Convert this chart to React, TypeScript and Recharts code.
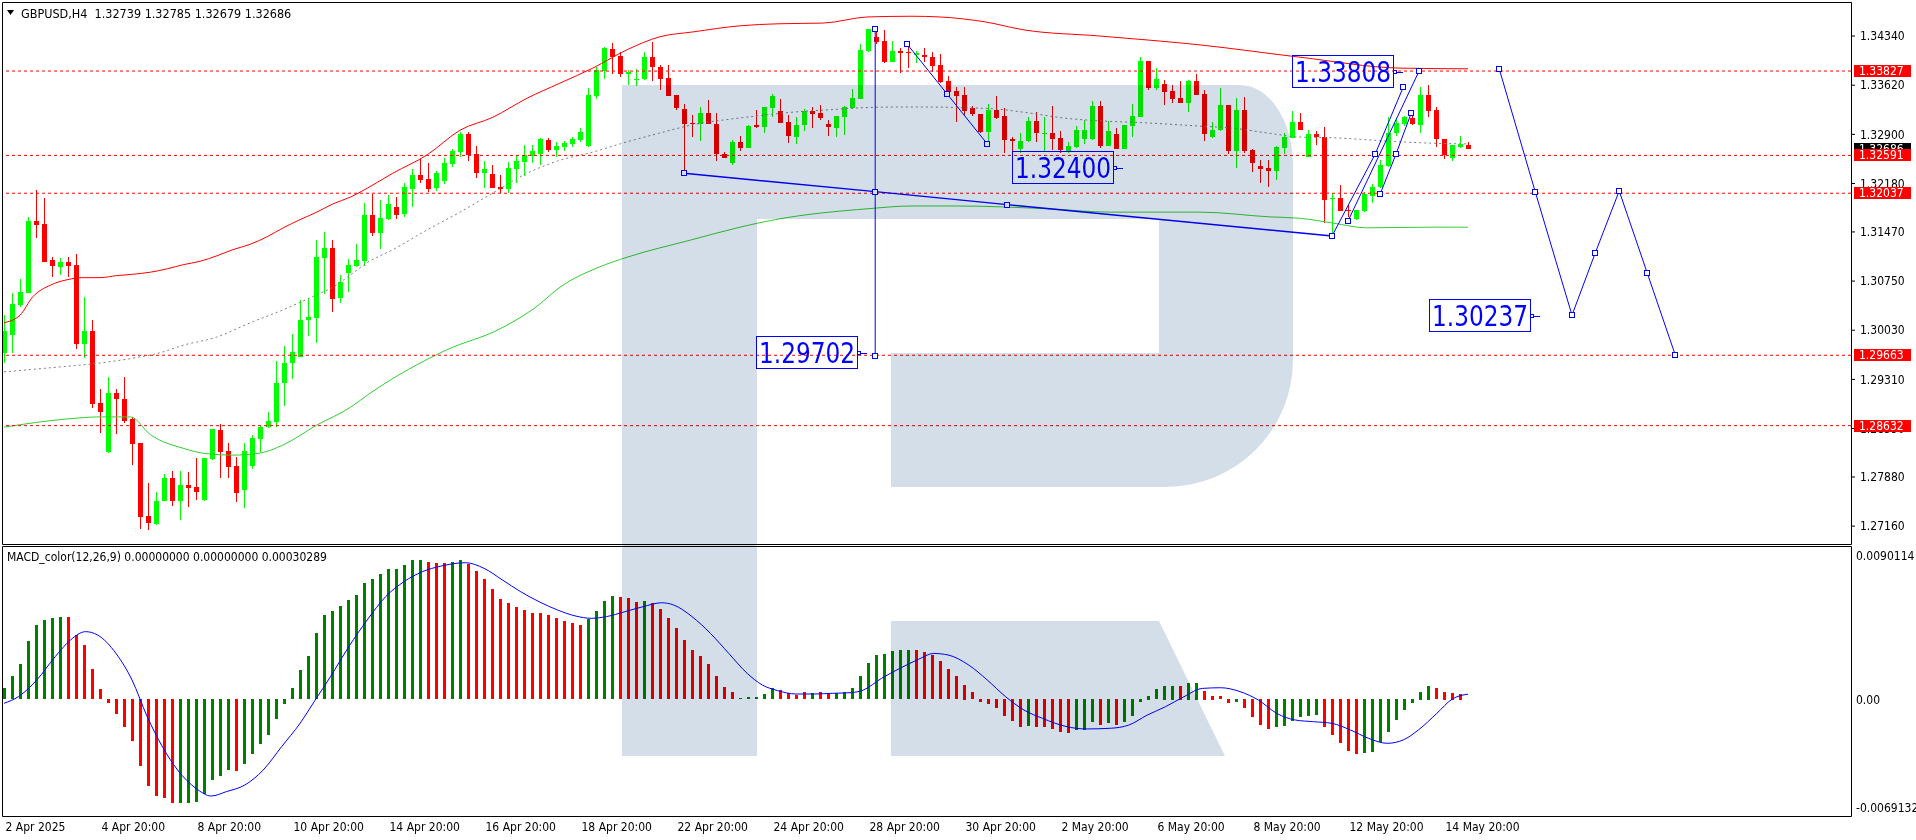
import React from "react";
import { Bar, ComposedChart, Line, ReferenceDot, ReferenceLine, XAxis, YAxis } from "recharts";

const FONT = "'DejaVu Sans Condensed', 'DejaVu Sans', sans-serif";

// GBPUSD H4 bars from 2 Apr 20:00 to 15 May 08:00 — [open, high, low, close]
const ohlc: [number, number, number, number][] = [
  [1.2970, 1.3025, 1.2955, 1.3002], [1.2995, 1.3058, 1.2970, 1.3041], [1.3040, 1.3078, 1.3037, 1.3059],
  [1.3058, 1.3169, 1.3058, 1.3163], [1.3163, 1.3208, 1.3138, 1.3157], [1.3159, 1.3197, 1.3104, 1.3104],
  [1.3106, 1.3110, 1.3080, 1.3097], [1.3096, 1.3109, 1.3084, 1.3103], [1.3103, 1.3110, 1.3080, 1.3097],
  [1.3099, 1.3115, 1.2976, 1.2983], [1.2983, 1.3052, 1.2962, 1.3002], [1.3002, 1.3018, 1.2889, 1.2895],
  [1.2896, 1.2917, 1.2852, 1.2883], [1.2825, 1.2935, 1.2823, 1.2911], [1.2911, 1.2917, 1.2851, 1.2902],
  [1.2902, 1.2935, 1.2867, 1.2870], [1.2873, 1.2876, 1.2806, 1.2836], [1.2838, 1.2838, 1.2712, 1.2729],
  [1.2731, 1.2779, 1.2710, 1.2721], [1.2719, 1.2766, 1.2718, 1.2753], [1.2753, 1.2792, 1.2753, 1.2787],
  [1.2787, 1.2797, 1.2746, 1.2754], [1.2753, 1.2797, 1.2725, 1.2776], [1.2776, 1.2795, 1.2744, 1.2772],
  [1.2773, 1.2816, 1.2754, 1.2766], [1.2754, 1.2816, 1.2753, 1.2816], [1.2814, 1.2858, 1.2813, 1.2858],
  [1.2857, 1.2866, 1.2787, 1.2825], [1.2826, 1.2838, 1.2787, 1.2803], [1.2804, 1.2817, 1.2751, 1.2765],
  [1.2769, 1.2838, 1.2743, 1.2826], [1.2804, 1.2850, 1.2800, 1.2845], [1.2844, 1.2863, 1.2825, 1.2861],
  [1.2861, 1.2883, 1.2860, 1.2870], [1.2869, 1.2958, 1.2861, 1.2926], [1.2926, 1.2980, 1.2892, 1.2955],
  [1.2955, 1.2998, 1.2932, 1.2971], [1.2964, 1.3047, 1.2964, 1.3018], [1.3017, 1.3049, 1.2995, 1.3022],
  [1.3021, 1.3135, 1.2984, 1.3110], [1.3109, 1.3147, 1.3056, 1.3124], [1.3124, 1.3135, 1.3030, 1.3050],
  [1.3050, 1.3084, 1.3043, 1.3074], [1.3087, 1.3107, 1.3059, 1.3099], [1.3097, 1.3129, 1.3096, 1.3106],
  [1.3104, 1.3189, 1.3096, 1.3172], [1.3172, 1.3203, 1.3141, 1.3146], [1.3146, 1.3194, 1.3122, 1.3168],
  [1.3166, 1.3201, 1.3165, 1.3188], [1.3184, 1.3198, 1.3166, 1.3173], [1.3173, 1.3219, 1.3169, 1.3213],
  [1.3211, 1.3239, 1.3184, 1.3231], [1.3231, 1.3254, 1.3219, 1.3223], [1.3225, 1.3248, 1.3206, 1.3211],
  [1.3211, 1.3236, 1.3206, 1.3233], [1.3222, 1.3255, 1.3217, 1.3248], [1.3247, 1.3269, 1.3242, 1.3266],
  [1.3264, 1.3294, 1.3258, 1.3291], [1.3291, 1.3294, 1.3251, 1.3260], [1.3261, 1.3273, 1.3226, 1.3233],
  [1.3233, 1.3251, 1.3211, 1.3239], [1.3232, 1.3245, 1.3211, 1.3211], [1.3213, 1.3231, 1.3204, 1.3210],
  [1.3210, 1.3250, 1.3204, 1.3241], [1.3239, 1.3260, 1.3219, 1.3251], [1.3250, 1.3274, 1.3228, 1.3260],
  [1.3258, 1.3274, 1.3247, 1.3266], [1.3261, 1.3285, 1.3245, 1.3283], [1.3282, 1.3285, 1.3264, 1.3267],
  [1.3267, 1.3279, 1.3257, 1.3273], [1.3271, 1.3280, 1.3266, 1.3277], [1.3276, 1.3286, 1.3271, 1.3283],
  [1.3282, 1.3299, 1.3279, 1.3294], [1.3274, 1.3358, 1.3271, 1.3348], [1.3346, 1.3389, 1.3342, 1.3384],
  [1.3384, 1.3418, 1.3371, 1.3417], [1.3415, 1.3424, 1.3378, 1.3403], [1.3405, 1.3411, 1.3374, 1.3378],
  [1.3378, 1.3384, 1.3362, 1.3381], [1.3370, 1.3386, 1.3361, 1.3371], [1.3371, 1.3411, 1.3370, 1.3403],
  [1.3403, 1.3425, 1.3368, 1.3389], [1.3389, 1.3392, 1.3355, 1.3371], [1.3373, 1.3392, 1.3346, 1.3346],
  [1.3348, 1.3348, 1.3326, 1.3329], [1.3327, 1.3334, 1.3233, 1.3305], [1.3307, 1.3318, 1.3286, 1.3305],
  [1.3305, 1.3330, 1.3280, 1.3321], [1.3321, 1.3340, 1.3305, 1.3305], [1.3305, 1.3321, 1.3250, 1.3261],
  [1.3261, 1.3264, 1.3255, 1.3255], [1.3248, 1.3282, 1.3245, 1.3279], [1.3279, 1.3288, 1.3266, 1.3270],
  [1.3270, 1.3304, 1.3270, 1.3302], [1.3304, 1.3326, 1.3299, 1.3301], [1.3301, 1.3330, 1.3292, 1.3330],
  [1.3329, 1.3349, 1.3315, 1.3346], [1.3324, 1.3342, 1.3307, 1.3307], [1.3308, 1.3318, 1.3277, 1.3288],
  [1.3286, 1.3315, 1.3276, 1.3304], [1.3304, 1.3327, 1.3295, 1.3324], [1.3324, 1.3330, 1.3299, 1.3320],
  [1.3321, 1.3333, 1.3311, 1.3313], [1.3305, 1.3311, 1.3288, 1.3301], [1.3299, 1.3317, 1.3286, 1.3317],
  [1.3315, 1.3332, 1.3289, 1.3330], [1.3329, 1.3356, 1.3326, 1.3343], [1.3342, 1.3422, 1.3342, 1.3414],
  [1.3412, 1.3444, 1.3411, 1.3444], [1.3433, 1.3443, 1.3422, 1.3425], [1.3427, 1.3443, 1.3395, 1.3396],
  [1.3396, 1.3427, 1.3396, 1.3412], [1.3412, 1.3417, 1.3380, 1.3409], [1.3411, 1.3418, 1.3387, 1.3409],
  [1.3406, 1.3412, 1.3395, 1.3409], [1.3406, 1.3417, 1.3396, 1.3403], [1.3403, 1.3411, 1.3381, 1.3390],
  [1.3392, 1.3408, 1.3365, 1.3367], [1.3368, 1.3376, 1.3348, 1.3352], [1.3354, 1.3359, 1.3308, 1.3346],
  [1.3348, 1.3359, 1.3318, 1.3324], [1.3329, 1.3332, 1.3318, 1.3320], [1.3320, 1.3320, 1.3292, 1.3294],
  [1.3294, 1.3334, 1.3280, 1.3326], [1.3326, 1.3346, 1.3313, 1.3315], [1.3317, 1.3329, 1.3263, 1.3282],
  [1.3283, 1.3286, 1.3263, 1.3280], [1.3269, 1.3292, 1.3263, 1.3280], [1.3280, 1.3315, 1.3279, 1.3310],
  [1.3310, 1.3323, 1.3279, 1.3292], [1.3291, 1.3315, 1.3263, 1.3292], [1.3292, 1.3332, 1.3267, 1.3283],
  [1.3285, 1.3295, 1.3263, 1.3267], [1.3266, 1.3279, 1.3263, 1.3273], [1.3271, 1.3302, 1.3270, 1.3296],
  [1.3283, 1.3311, 1.3276, 1.3296], [1.3283, 1.3339, 1.3282, 1.3332], [1.3332, 1.3339, 1.3270, 1.3273],
  [1.3273, 1.3310, 1.3273, 1.3295], [1.3291, 1.3299, 1.3269, 1.3269], [1.3269, 1.3304, 1.3269, 1.3304],
  [1.3302, 1.3334, 1.3286, 1.3317], [1.3315, 1.3403, 1.3315, 1.3397], [1.3397, 1.3397, 1.3354, 1.3358],
  [1.3358, 1.3387, 1.3355, 1.3371], [1.3364, 1.3370, 1.3334, 1.3352], [1.3354, 1.3362, 1.3336, 1.3342],
  [1.3343, 1.3368, 1.3336, 1.3336], [1.3336, 1.3370, 1.3323, 1.3368], [1.3368, 1.3378, 1.3348, 1.3348],
  [1.3349, 1.3355, 1.3280, 1.3291], [1.3286, 1.3308, 1.3285, 1.3296], [1.3296, 1.3358, 1.3295, 1.3333],
  [1.3333, 1.3333, 1.3261, 1.3266], [1.3266, 1.3343, 1.3241, 1.3326], [1.3326, 1.3345, 1.3263, 1.3266],
  [1.3267, 1.3269, 1.3236, 1.3248], [1.3244, 1.3252, 1.3219, 1.3239], [1.3241, 1.3252, 1.3213, 1.3236],
  [1.3236, 1.3273, 1.3223, 1.3271], [1.3270, 1.3292, 1.3261, 1.3286], [1.3285, 1.3324, 1.3285, 1.3308],
  [1.3308, 1.3321, 1.3296, 1.3296], [1.3257, 1.3296, 1.3257, 1.3291], [1.3291, 1.3295, 1.3274, 1.3286],
  [1.3286, 1.3301, 1.3160, 1.3194], [1.3195, 1.3204, 1.3146, 1.3197], [1.3197, 1.3216, 1.3178, 1.3178],
  [1.3179, 1.3187, 1.3169, 1.3178], [1.3166, 1.3179, 1.3165, 1.3179], [1.3178, 1.3206, 1.3176, 1.3203],
  [1.3200, 1.3217, 1.3189, 1.3213], [1.3213, 1.3252, 1.3211, 1.3245], [1.3244, 1.3315, 1.3242, 1.3292],
  [1.3292, 1.3314, 1.3288, 1.3307], [1.3305, 1.3317, 1.3302, 1.3315], [1.3314, 1.3318, 1.3304, 1.3305],
  [1.3304, 1.3359, 1.3291, 1.3348], [1.3348, 1.3362, 1.3315, 1.3324], [1.3326, 1.3330, 1.3271, 1.3283],
  [1.3283, 1.3283, 1.3254, 1.3260], [1.3255, 1.3274, 1.3251, 1.3274], [1.3271, 1.3288, 1.3271, 1.3276],
  [1.32739, 1.32785, 1.32679, 1.32686],
];

// moving average envelope: [bar index, price]
const maUpper = [
  [0, 1.3014], [2, 1.3025], [3.6, 1.3052], [5.8, 1.3069], [7.9, 1.3077], [9.9, 1.308], [12, 1.308],
  [14.1, 1.3083], [16.1, 1.3085], [18.3, 1.3088], [20.4, 1.3093], [22.4, 1.3099], [24.5, 1.3104],
  [26.6, 1.3112], [28.6, 1.3121], [30.8, 1.3129], [32.9, 1.314], [34.9, 1.3153], [37, 1.3165],
  [39.1, 1.3176], [41.1, 1.3188], [43.3, 1.3198], [45.4, 1.3211], [48.6, 1.3233], [52.9, 1.326],
  [57, 1.3296], [61.1, 1.3315], [65.4, 1.3343], [69.5, 1.3365], [73.6, 1.3387], [77.9, 1.3414],
  [82, 1.3433], [86.1, 1.344], [92, 1.3449], [96.9, 1.3452], [102.4, 1.3453], [108, 1.3462],
  [113.5, 1.3463], [116.9, 1.3462], [122.5, 1.3455], [127.5, 1.3443], [137, 1.3434], [149.5, 1.3421],
  [162, 1.3403], [174.5, 1.3387], [183, 1.3386],
];
const maMiddle = [
  [0, 1.2942], [5.8, 1.2948], [12, 1.2955], [16.1, 1.2962], [19.5, 1.297], [22.4, 1.2981], [26.6, 1.2993],
  [30.8, 1.3014], [34.9, 1.3033], [39.1, 1.3055], [41.1, 1.3066], [43.3, 1.3084], [45.4, 1.3102],
  [48.6, 1.3121], [52.9, 1.315], [57, 1.3176], [61.1, 1.3204], [65.4, 1.3233], [69.5, 1.3252],
  [73.6, 1.3264], [77.9, 1.3279], [82, 1.3292], [86.1, 1.3304], [92, 1.3314], [94.9, 1.3318],
  [99.1, 1.3323], [103.3, 1.3326], [107.4, 1.3329], [111.6, 1.333], [115.8, 1.333], [119.9, 1.3329],
  [124.1, 1.3327], [128.3, 1.3321], [132.4, 1.3314], [136.6, 1.331], [142.4, 1.3307], [149.5, 1.3302],
  [153.6, 1.3299], [157.9, 1.3292], [162, 1.3286], [166.1, 1.3285], [170.4, 1.3282], [174.5, 1.3279],
  [178.6, 1.3277], [183, 1.3276],
];
const maLower = [
  [0, 1.2861], [7.9, 1.2873], [12, 1.2876], [15.8, 1.2876], [18.3, 1.285], [22.4, 1.283], [25.4, 1.2822],
  [28.6, 1.282], [32, 1.2823], [34.9, 1.2835], [39.1, 1.2864], [43.3, 1.289], [45.8, 1.2911],
  [55.3, 1.2974], [62, 1.3005], [66.5, 1.3037], [69.5, 1.3066], [74.5, 1.3096], [77.9, 1.311],
  [85.8, 1.3135], [92, 1.3154], [96.4, 1.3165], [108, 1.3181], [113.5, 1.3185], [119.1, 1.3185],
  [130.3, 1.3181], [138.3, 1.3176], [149.5, 1.3176], [158.3, 1.3169], [162, 1.3167], [166.1, 1.316],
  [170.4, 1.3153], [178.6, 1.3154], [183, 1.3154],
];

const priceTicks = [1.3434, 1.3362, 1.329, 1.3218, 1.3147, 1.3075, 1.3003, 1.2931, 1.2859, 1.2788, 1.2716];
const levels = [1.33827, 1.32591, 1.32037, 1.29663, 1.28632];
const lastPrice = 1.32686;

// blue drawings: [bar index, price]
const trendLine = [[85, 1.3233], [108.9, 1.3206], [125.4, 1.3187], [166, 1.3141]];
const spikeLine = [[108.9, 1.3444], [108.9, 1.2965]];
const slideLine = [[112.9, 1.3422], [117.9, 1.3349], [122.9, 1.3276]];
const channelA = [[166, 1.3141], [171.4, 1.3261], [174.9, 1.3359]];
const channelB = [[168, 1.3163], [176.9, 1.3383]];
const channelC = [[172, 1.3202], [174, 1.3261], [175.9, 1.3321]];
const forecast = [[186.9, 1.3386], [191.4, 1.3206], [196, 1.3025], [198.9, 1.3116], [201.9, 1.3207], [205.4, 1.3087], [208.9, 1.2967]];
const targets = [
  { x: 139.9, y: 1.324, text: "1.32400" },
  { x: 192, y: 1.30237, text: "1.30237" },
  { x: 107.9, y: 1.29702, text: "1.29702" },
  { x: 174.9, y: 1.33808, text: "1.33808" },
];

// MACD_color(12,26,9) histogram per bar, colour per bar (g = green, r = red)
const macdHist = [
  0.00066, 0.00137, 0.00208, 0.00344, 0.00439, 0.00469, 0.00479, 0.00487, 0.00486, 0.0038,
  0.00321, 0.00179, 0.0006, -0.00021, -0.00086, -0.00165, -0.00247, -0.00395, -0.00514, -0.00573,
  -0.00589, -0.00618, -0.00617, -0.00616, -0.00612, -0.00561, -0.00482, -0.00453, -0.00419, -0.00429,
  -0.00382, -0.00328, -0.00269, -0.00212, -0.00121, -0.00028, 0.00066, 0.00173, 0.00256, 0.00392,
  0.00498, 0.00522, 0.00552, 0.00587, 0.00617, 0.00688, 0.00711, 0.00741, 0.00771, 0.00772,
  0.00796, 0.00824, 0.00825, 0.00812, 0.00806, 0.00805, 0.00812, 0.00824, 0.008, 0.00759,
  0.00711, 0.00652, 0.00593, 0.00569, 0.00546, 0.00528, 0.0051, 0.00509, 0.00498, 0.00481,
  0.00463, 0.00451, 0.00439, 0.00475, 0.00522, 0.00581, 0.00611, 0.00606, 0.00599, 0.00575,
  0.00581, 0.00569, 0.00534, 0.00481, 0.00421, 0.0035, 0.00291, 0.00256, 0.00208, 0.00137,
  0.00072, 0.00043, 0.00007, 0.00013, 0.00013, 0.00031, 0.00066, 0.00054, 0.00037, 0.00025,
  0.00043, 0.00037, 0.00043, 0.00031, 0.00037, 0.00043, 0.00066, 0.00137, 0.00214, 0.00262,
  0.00268, 0.00285, 0.00291, 0.00292, 0.00291, 0.00279, 0.00262, 0.00226, 0.00179, 0.00137,
  0.00086, 0.00043, -0.00015, -0.00032, -0.00056, -0.00103, -0.00133, -0.00163, -0.00157, -0.00163,
  -0.00168, -0.0018, -0.00198, -0.00204, -0.00186, -0.00185, -0.00139, -0.00151, -0.00145, -0.00151,
  -0.00139, -0.00103, -0.00015, 0.00021, 0.00062, 0.0008, 0.00081, 0.0008, 0.00098, 0.00098,
  0.00051, 0.00021, 0.0002, -0.00021, -0.0002, -0.00056, -0.00109, -0.00151, -0.0018, -0.00163,
  -0.00162, -0.00133, -0.00109, -0.00103, -0.00097, -0.00163, -0.00216, -0.00263, -0.00305, -0.00328,
  -0.00322, -0.00311, -0.00257, -0.00198, -0.00127, -0.00068, -0.00021, 0.00045, 0.0008, 0.00068,
  0.00045, 0.00039, 0.00033, 0,
];
const macdColors =
  "gggggggg" + "rrrrrrrrrrrrrr" + "ggggggg" + "r" + "ggggggggggggggggggggggg" + "rrr" + "gg" +
  "rrrrrrrrrrrrrrr" + "gggg" + "rrr" + "g" + "rrrrrrrrrrr" + "ggggg" + "rrrr" + "g" + "rr" +
  "gggggggggg" + "rrrrrrrrrrrrrr" + "g" + "rrrrr" + "ggg" + "r" + "g" + "r" + "ggggggg" + "r" + "gg" +
  "rrrr" + "g" + "rrrr" + "gggggg" + "rrrrr" + "ggggggggg" + "rrrrr";

const signal = [
  [0, -0.00024], [1.8, 0.00015], [4.1, 0.00114], [6.4, 0.00252], [8.3, 0.0035], [10.2, 0.004], [11.7, 0.0038],
  [14, 0.00271], [16, 0.00114], [17.9, -0.00103], [19.8, -0.00281], [21.7, -0.00419], [24, -0.00528],
  [25.9, -0.00573], [27.8, -0.00547], [30.1, -0.00508], [32.4, -0.00419], [34.7, -0.00281], [37, -0.00143],
  [38.9, -0.00005], [40.8, 0.00133], [43.1, 0.00311], [45.4, 0.00469], [47.7, 0.00607], [50, 0.00696],
  [52.3, 0.00755], [54.6, 0.00788], [57.7, 0.00808], [60, 0.00775], [62.3, 0.00706], [64.6, 0.00636],
  [66.9, 0.00577], [69.2, 0.00528], [71.5, 0.00492], [73.4, 0.00479], [75.3, 0.00489], [77.6, 0.00518],
  [79.9, 0.00548], [82.2, 0.00571], [83.7, 0.00558], [86, 0.00489], [88.3, 0.0039], [90.6, 0.00271],
  [92.9, 0.00153], [94.8, 0.00084], [96.7, 0.00051], [99, 0.00031], [101.3, 0.00031], [103.6, 0.00035],
  [105.9, 0.00039], [107.4, 0.00054], [109.7, 0.00124], [112, 0.00183], [114.3, 0.00236], [116.2, 0.00271],
  [118, 0.00262], [120.6, 0.00202], [122.9, 0.00114], [125.2, 0.00015], [127.5, -0.00064], [129.8, -0.00113],
  [132.9, -0.00163], [135.2, -0.00176], [138.3, -0.00172], [140.6, -0.00153], [142.9, -0.00094],
  [145.2, -0.00044], [147.5, 0.00015], [149.8, 0.00064], [152.1, 0.00068], [154.5, 0.00045], [156.8, -0.00005],
  [159.1, -0.00084], [161.4, -0.00123], [163.7, -0.00133], [166, -0.00143], [168.3, -0.00182],
  [170.6, -0.00232], [172.9, -0.00261], [174.9, -0.00241], [176.8, -0.00182], [179.1, -0.00084], [181, 0],
  [183, 0.0003],
];
const macdTicks = [0.0090114, 0, -0.0069132];
const macdTickLabels = ["0.0090114", "0.00", "-0.0069132"];

const dateTicks = [0, 12, 24, 36, 48, 60, 72, 84, 96, 108, 120, 132, 144, 156, 168, 180];
const dateLabels = [
  "2 Apr 2025", "4 Apr 20:00", "8 Apr 20:00", "10 Apr 20:00", "14 Apr 20:00", "16 Apr 20:00",
  "18 Apr 20:00", "22 Apr 20:00", "24 Apr 20:00", "28 Apr 20:00", "30 Apr 20:00", "2 May 20:00",
  "6 May 20:00", "8 May 20:00", "12 May 20:00", "14 May 20:00",
];

const X_DOMAIN: [number, number] = [-0.125, 230.875];
const PRICE_DOMAIN: [number, number] = [1.26898, 1.34824];

const candleRows = ohlc.map(([o, h, l, c], i) => ({ x: i, o, h, l, c, range: [l, h] }));
const macdRows = macdHist.map((v, i) => ({ x: i, h: v, col: macdColors[i] }));
const pts = (arr: number[][]) => arr.map(([x, v]) => ({ x, v }));

function Candle(props: any) {
  const { x, y, width, height, payload } = props;
  if (x == null || y == null || !payload) return null;
  const { o, h, l, c } = payload;
  const k = h > l ? height / (h - l) : 0;
  const cx = Math.round(x + width / 2);
  const yO = y + (h - o) * k;
  const yC = y + (h - c) * k;
  const col = c >= o ? "#00ff00" : "#ff0000";
  const top = Math.round(Math.min(yO, yC));
  const bh = Math.max(1, Math.round(Math.abs(yC - yO)));
  return (
    <g>
      <rect x={cx} y={Math.round(y)} width={1} height={Math.max(1, Math.round(height))} fill={col} />
      <rect x={cx - 2} y={top} width={5} height={bh} fill={col} />
    </g>
  );
}

function HistBar(props: any) {
  const { x, y, width, height, payload } = props;
  if (x == null || y == null || !payload || payload.h === 0) return null;
  const cx = Math.round(x + width / 2);
  const y0 = Math.round(Math.min(y, y + height));
  const hh = Math.max(1, Math.round(Math.abs(height)));
  return <rect x={cx - 1} y={y0} width={3} height={hh} fill={payload.col === "g" ? "#008000" : "#ff0000"} />;
}

function SquareDot(props: any) {
  const { cx, cy } = props;
  if (cx == null || cy == null) return null;
  return <rect x={Math.round(cx) - 2.5} y={Math.round(cy) - 2.5} width={5} height={5} fill="#fff" stroke="#0000ff" />;
}

function LevelTag(props: any) {
  const { viewBox, price, bg } = props;
  if (!viewBox) return null;
  const x = viewBox.x + viewBox.width;
  const y = Math.round(viewBox.y);
  return (
    <g>
      <rect x={x + 3} y={y - 6} width={57} height={12} fill={bg} />
      <text x={x + 8} y={y} dy="0.36em" fontSize={12} fill="#fff" fontFamily={FONT}>
        {price.toFixed(5)}
      </text>
    </g>
  );
}

function TargetTag(props: any) {
  const { cx, cy, text } = props;
  if (cx == null || cy == null) return null;
  const x = Math.round(cx);
  const y = Math.round(cy);
  return (
    <g>
      <rect x={x - 110.5} y={y - 16.5} width={101} height={32} fill="none" stroke="#0000ff" />
      <line x1={x - 9} x2={x} y1={y + 0.5} y2={y + 0.5} stroke="#0000ff" />
      <rect x={x - 9.5} y={y - 1.5} width={3} height={3} fill="#fff" stroke="#0000ff" />
      <text x={x - 108} y={y + 10} fontSize={29} fill="#0000ff" fontFamily={FONT} textLength={96} lengthAdjust="spacingAndGlyphs">
        {text}
      </text>
    </g>
  );
}

function DateTick(props: any) {
  const { x, y, payload } = props;
  const k = dateTicks.indexOf(payload.value);
  const px = Math.round(x) + 0.5;
  return (
    <g>
      <line x1={px} x2={px} y1={816} y2={821} stroke="#000" />
      <text x={px + 1} y={y} dy="0.71em" fontSize={12} fill="#000" fontFamily={FONT}>
        {dateLabels[k]}
      </text>
    </g>
  );
}

function MacdTick(props: any) {
  const { x, y, payload } = props;
  const k = macdTicks.indexOf(payload.value);
  const shift = k === 0 ? 9 : k === 2 ? -8 : 0;
  return (
    <text x={x} y={y + shift} dy="0.36em" fontSize={12} fill="#000" fontFamily={FONT}>
      {macdTickLabels[k]}
    </text>
  );
}

const drawLines = [trendLine, spikeLine, slideLine, channelA, channelB, channelC, forecast];
const MAIN_MARGIN = { top: 3, right: 0, bottom: 2, left: 3 };

export default function App() {
  return (
    <div style={{ position: "relative", width: 1916, height: 840, background: "#fff", overflow: "hidden" }}>
      <style>{"body{margin:0}"}</style>

      <div style={{ position: "absolute", left: 0, top: 0 }}>
        <ComposedChart width={1916} height={546} data={candleRows} margin={MAIN_MARGIN}>
          <XAxis type="number" dataKey="x" domain={X_DOMAIN} allowDataOverflow hide />
          <YAxis
            orientation="right"
            width={65}
            domain={PRICE_DOMAIN}
            allowDataOverflow
            ticks={priceTicks}
            interval={0}
            tickFormatter={(v: number) => v.toFixed(5)}
            tick={{ fontSize: 12, fill: "#000", fontFamily: FONT }}
            tickSize={4}
            tickMargin={5}
            tickLine={{ stroke: "#000" }}
            axisLine={false}
          />
          <Bar dataKey="range" shape={Candle} barSize={5} isAnimationActive={false} />
          <Line data={pts(maUpper)} dataKey="v" type="monotone" stroke="#ff0000" strokeWidth={1} dot={false} isAnimationActive={false} />
          <Line data={pts(maMiddle)} dataKey="v" type="monotone" stroke="#808080" strokeDasharray="2 3" strokeWidth={1} dot={false} isAnimationActive={false} />
          <Line data={pts(maLower)} dataKey="v" type="monotone" stroke="#32cd32" strokeWidth={1} dot={false} isAnimationActive={false} />
          {levels.map((lv) => (
            <ReferenceLine key={lv} y={lv} stroke="#ff0000" strokeDasharray="3 3" />
          ))}
          {drawLines.map((ln, i) => (
            <Line
              key={"d" + i}
              data={pts(ln)}
              dataKey="v"
              type="linear"
              stroke="#0000ff"
              strokeWidth={i === 0 ? 1.4 : 1}
              dot={SquareDot}
              isAnimationActive={false}
            />
          ))}
          {targets.map((t) => (
            <ReferenceDot key={t.text} x={t.x} y={t.y} r={1} ifOverflow="visible" shape={(p: any) => <TargetTag {...p} text={t.text} />} />
          ))}
        </ComposedChart>
      </div>

      {/* price tags on the right scale, drawn above the tick labels */}
      <div style={{ position: "absolute", left: 0, top: 0, pointerEvents: "none" }}>
        <ComposedChart width={1916} height={546} data={candleRows} margin={MAIN_MARGIN}>
          <XAxis type="number" dataKey="x" domain={X_DOMAIN} allowDataOverflow hide />
          <YAxis orientation="right" width={65} domain={PRICE_DOMAIN} allowDataOverflow tick={false} tickLine={false} axisLine={false} />
          <ReferenceLine y={lastPrice} stroke="none" label={<LevelTag price={lastPrice} bg="#000000" />} />
          {levels.map((lv) => (
            <ReferenceLine key={"t" + lv} y={lv} stroke="none" label={<LevelTag price={lv} bg="#ff0000" />} />
          ))}
        </ComposedChart>
      </div>

      <div style={{ position: "absolute", left: 0, top: 547 }}>
        <ComposedChart width={1916} height={293} data={macdRows} margin={{ top: 0, right: 0, bottom: 0, left: 3 }}>
          <XAxis
            type="number"
            dataKey="x"
            domain={X_DOMAIN}
            allowDataOverflow
            ticks={dateTicks}
            interval={0}
            height={24}
            tickSize={4}
            tickMargin={2}
            tickLine={false}
            axisLine={false}
            tick={DateTick}
          />
          <YAxis
            orientation="right"
            width={65}
            domain={[-0.0069132, 0.0090114]}
            allowDataOverflow
            ticks={macdTicks}
            interval={0}
            tickSize={0}
            tickMargin={5}
            tickLine={false}
            axisLine={false}
            tick={MacdTick}
          />
          <Bar dataKey="h" shape={HistBar} barSize={3} isAnimationActive={false} />
          <Line data={pts(signal)} dataKey="v" type="monotone" stroke="#0000ff" strokeWidth={1} dot={false} isAnimationActive={false} />
        </ComposedChart>
      </div>

      {/* watermark */}
      <svg width={1916} height={840} style={{ position: "absolute", left: 0, top: 0, mixBlendMode: "multiply", pointerEvents: "none" }}>
        <path d="M622,85 H1240 A53,80 0 0 1 1293,165 V360 A127,127 0 0 1 1166,487 H891 V353 H1159 V219 H757 V756 H622 Z" fill="#d4dee9" />
        <path d="M891,621 H1159 L1225,756 H891 Z" fill="#d4dee9" />
      </svg>

      {/* panel frames and captions */}
      <svg width={1916} height={840} style={{ position: "absolute", left: 0, top: 0, pointerEvents: "none" }}>
        <path d="M2.5,2.5 H1851.5 V544.5 H2.5 Z" fill="none" stroke="#000" />
        <path d="M2.5,546.5 H1851.5 V816.5 H2.5 Z" fill="none" stroke="#000" />
        <polygon points="7,10 14,10 10.5,15" fill="#000" />
        <text x={21} y={13} dy="0.36em" fontSize={12.5} fontFamily={FONT} fill="#000" style={{ whiteSpace: "pre" }}>
          {"GBPUSD,H4  1.32739 1.32785 1.32679 1.32686"}
        </text>
        <text x={7} y={557} dy="0.36em" fontSize={12} fontFamily={FONT} fill="#000">
          {"MACD_color(12,26,9) 0.00000000 0.00000000 0.00030289"}
        </text>
      </svg>
    </div>
  );
}
